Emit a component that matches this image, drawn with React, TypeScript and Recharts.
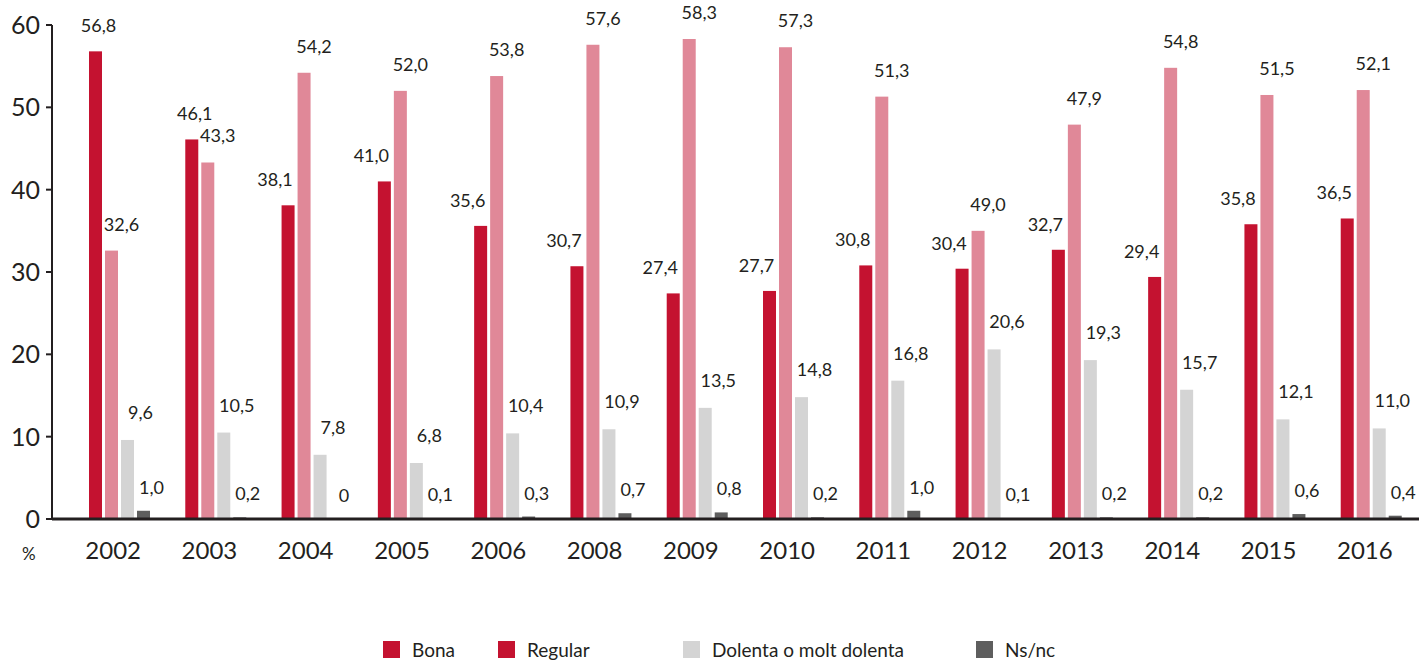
import { Bar, BarChart, XAxis, YAxis } from 'recharts';

const years = ['2002', '2003', '2004', '2005', '2006', '2008', '2009', '2010', '2011', '2012', '2013', '2014', '2015', '2016'];
const bona = [56.8, 46.1, 38.1, 41.0, 35.6, 30.7, 27.4, 27.7, 30.8, 30.4, 32.7, 29.4, 35.8, 36.5];
// bar heights as drawn (2012 bar is drawn lower than its printed value)
const regular = [32.6, 43.3, 54.2, 52.0, 53.8, 57.6, 58.3, 57.3, 51.3, 35.0, 47.9, 54.8, 51.5, 52.1];
const regularPrinted = [32.6, 43.3, 54.2, 52.0, 53.8, 57.6, 58.3, 57.3, 51.3, 49.0, 47.9, 54.8, 51.5, 52.1];
const dolenta = [9.6, 10.5, 7.8, 6.8, 10.4, 10.9, 13.5, 14.8, 16.8, 20.6, 19.3, 15.7, 12.1, 11.0];
const nsnc = [1.0, 0.2, 0, 0.1, 0.3, 0.7, 0.8, 0.2, 1.0, 0.1, 0.2, 0.2, 0.6, 0.4];
const yTicks = [0, 10, 20, 30, 40, 50, 60];

const series = [
  { key: 'bona', name: 'Bona', color: '#c41230', legend: '#c41230' },
  { key: 'regular', name: 'Regular', color: '#e08898', legend: '#c41230' },
  { key: 'dolenta', name: 'Dolenta o molt dolenta', color: '#d4d4d4', legend: '#d4d4d4' },
  { key: 'nsnc', name: 'Ns/nc', color: '#5e5e5e', legend: '#5e5e5e' },
];

const data = years.map((year, i) => ({
  year,
  bona: bona[i],
  regular: regular[i],
  dolenta: dolenta[i],
  nsnc: nsnc[i],
}));

const FONT = 'Lato, "Open Sans", sans-serif';
const INK = '#231f20';

const fmt = (v: number) => (v === 0 ? '0' : v.toFixed(1).replace('.', ','));

// bar + its value label, so zero-height bars still get a label
function makeShape(key: string, color: string) {
  return (p: any) => {
    const i = p.index;
    let dx = 10;
    let dy = -20;
    let value = p.value;
    if (Array.isArray(value)) value = value[1] - value[0];
    if (key === 'bona') {
      dx = bona[i] >= regular[i] ? 3 : -13;
      dy = -19;
    }
    if (key === 'regular') value = regularPrinted[i];
    if (key === 'dolenta') {
      dx = 13;
      dy = -21;
    }
    if (key === 'nsnc') {
      dx = 8;
      dy = -17;
    }
    const top = p.y;
    return (
      <g>
        {p.height > 0 && <rect x={p.x} y={p.y} width={p.width} height={p.height} fill={color} />}
        <text
          x={p.x + p.width / 2 + dx}
          y={top + dy}
          textAnchor="middle"
          fontFamily={FONT}
          fontSize={18}
          fill={INK}
        >
          {fmt(value)}
        </text>
      </g>
    );
  };
}

export default function App() {
  return (
    <div style={{ position: 'absolute', left: 0, top: 0, width: 1419, height: 661, background: '#fff', fontFamily: FONT }}>
      <BarChart
        width={1419}
        height={661}
        data={data}
        margin={{ top: 25, right: 0, left: 0, bottom: 112 }}
        barSize={13}
        barGap={3}
      >
        <XAxis
          dataKey="year"
          axisLine={{ stroke: INK, strokeWidth: 3 }}
          tickLine={false}
          padding={{ left: 19, right: 0 }}
          height={30}
          tick={{ fill: INK, fontSize: 24, fontFamily: FONT, dx: -6, dy: 15 }}
        />
        <YAxis
          domain={[0, 60]}
          ticks={yTicks}
          width={52}
          axisLine={{ stroke: INK, strokeWidth: 2 }}
          tickLine={{ stroke: INK, strokeWidth: 2 }}
          tickSize={6}
          tick={{ fill: INK, fontSize: 25, fontFamily: FONT, dx: -4 }}
        />
        {series.map((s) => (
          <Bar
            key={s.key}
            dataKey={s.key}
            name={s.name}
            fill={s.color}
            isAnimationActive={false}
            shape={makeShape(s.key, s.color)}
          />
        ))}
      </BarChart>
      <div style={{ position: 'absolute', left: 22, top: 543, fontSize: 17, color: INK }}>%</div>
      <div style={{ position: 'absolute', left: 0, top: 638, width: 1419, height: 20 }}>
        {series.map((s, i) => {
          const lefts = [383, 498, 683, 976];
          return (
            <div
              key={s.key}
              style={{ position: 'absolute', left: lefts[i], top: 0, display: 'flex', alignItems: 'center', fontSize: 19, color: INK }}
            >
              <span style={{ width: 17, height: 17, background: s.legend, display: 'inline-block', marginRight: 12 }} />
              {s.name}
            </div>
          );
        })}
      </div>
    </div>
  );
}
